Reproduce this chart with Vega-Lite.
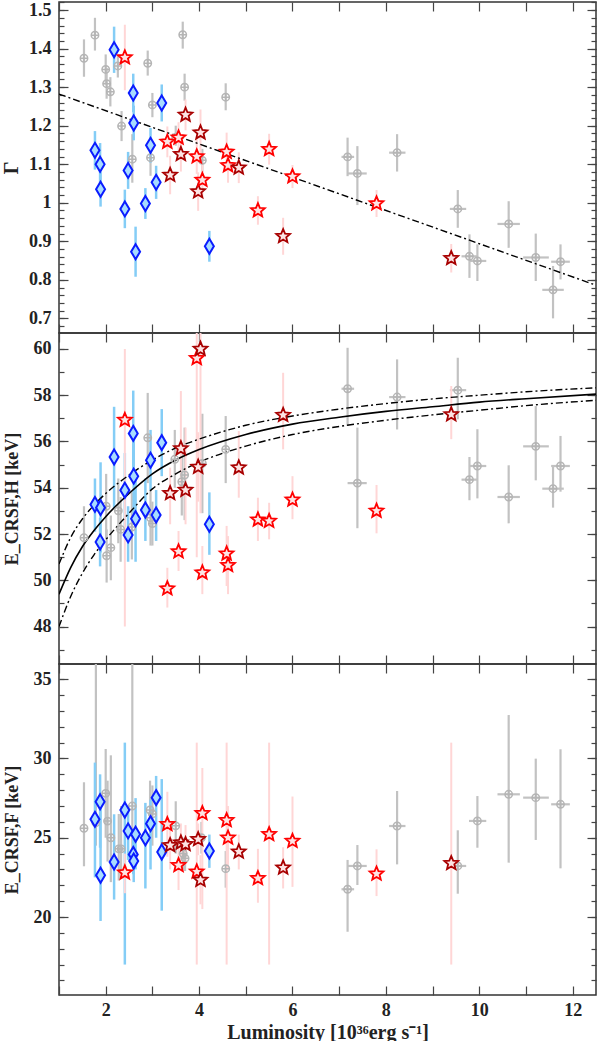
{
"$schema":"https://vega.github.io/schema/vega-lite/v6.json",
"padding":{"left":0,"top":0,"right":0,"bottom":0},
"spacing":0,
"bounds":"flush",
"datasets":{
"grey":[
{"p":1,"L":1.535,"v":1.375,"lo":1.327,"hi":1.424},
{"p":1,"L":1.77,"v":1.435,"lo":1.395,"hi":1.48},
{"p":1,"L":2.0,"v":1.346,"lo":1.307,"hi":1.385},
{"p":1,"L":2.02,"v":1.309,"lo":1.27,"hi":1.35},
{"p":1,"L":2.1,"v":1.288,"lo":1.25,"hi":1.326},
{"p":1,"L":2.26,"v":1.355,"lo":1.325,"hi":1.385},
{"p":1,"L":2.34,"v":1.199,"lo":1.16,"hi":1.238},
{"p":1,"L":2.57,"v":1.113,"lo":1.052,"hi":1.178},
{"p":1,"L":2.9,"v":1.362,"lo":1.33,"hi":1.395},
{"p":1,"L":2.96,"v":1.117,"lo":1.07,"hi":1.165},
{"p":1,"L":3.0,"v":1.254,"lo":1.222,"hi":1.285},
{"p":1,"L":3.5,"v":1.17,"lo":1.148,"hi":1.2},
{"p":1,"L":3.65,"v":1.436,"lo":1.4,"hi":1.47},
{"p":1,"L":3.69,"v":1.3,"lo":1.265,"hi":1.335},
{"p":1,"L":4.07,"v":1.11,"lo":1.08,"hi":1.14},
{"p":1,"L":4.57,"v":1.274,"lo":1.24,"hi":1.31},
{"p":1,"L":7.18,"Llo":7.05,"Lhi":7.32,"v":1.119,"lo":1.069,"hi":1.169},
{"p":1,"L":7.39,"Llo":7.18,"Lhi":7.59,"v":1.076,"lo":0.994,"hi":1.147},
{"p":1,"L":8.24,"Llo":8.07,"Lhi":8.42,"v":1.13,"lo":1.081,"hi":1.178},
{"p":1,"L":9.54,"Llo":9.37,"Lhi":9.72,"v":0.984,"lo":0.935,"hi":1.033},
{"p":1,"L":9.79,"Llo":9.62,"Lhi":9.96,"v":0.861,"lo":0.805,"hi":0.918},
{"p":1,"L":9.96,"Llo":9.78,"Lhi":10.15,"v":0.849,"lo":0.797,"hi":0.892},
{"p":1,"L":10.63,"Llo":10.39,"Lhi":10.87,"v":0.945,"lo":0.883,"hi":1.004},
{"p":1,"L":11.21,"Llo":10.94,"Lhi":11.49,"v":0.858,"lo":0.797,"hi":0.92},
{"p":1,"L":11.58,"Llo":11.35,"Lhi":11.81,"v":0.774,"lo":0.7,"hi":0.836},
{"p":1,"L":11.74,"Llo":11.54,"Lhi":11.94,"v":0.847,"lo":0.801,"hi":0.892},
{"p":2,"L":1.535,"v":51.84,"lo":50.5,"hi":53.2},
{"p":2,"L":2.01,"v":53.2,"lo":51.8,"hi":54.6},
{"p":2,"L":2.02,"v":51.06,"lo":49.9,"hi":52.2},
{"p":2,"L":2.11,"v":51.41,"lo":50.0,"hi":52.8},
{"p":2,"L":2.27,"v":53.0,"lo":51.6,"hi":54.4},
{"p":2,"L":2.32,"v":52.2,"lo":50.8,"hi":53.6},
{"p":2,"L":2.56,"v":52.3,"lo":50.9,"hi":53.8},
{"p":2,"L":2.9,"v":56.16,"lo":54.2,"hi":58.1},
{"p":2,"L":2.96,"v":52.7,"lo":51.5,"hi":53.9},
{"p":2,"L":3.0,"v":52.45,"lo":51.5,"hi":53.4},
{"p":2,"L":3.48,"v":55.23,"lo":54.0,"hi":56.5},
{"p":2,"L":3.63,"v":54.26,"lo":52.8,"hi":55.8},
{"p":2,"L":3.69,"v":54.55,"lo":52.6,"hi":56.6},
{"p":2,"L":4.07,"v":55.05,"lo":52.9,"hi":57.2},
{"p":2,"L":4.57,"v":55.66,"lo":54.2,"hi":57.1},
{"p":2,"L":7.18,"Llo":7.05,"Lhi":7.32,"v":58.28,"lo":56.67,"hi":60.05},
{"p":2,"L":7.39,"Llo":7.18,"Lhi":7.59,"v":54.2,"lo":52.25,"hi":56.6},
{"p":2,"L":8.24,"Llo":8.07,"Lhi":8.42,"v":57.92,"lo":56.52,"hi":59.55},
{"p":2,"L":9.54,"Llo":9.37,"Lhi":9.72,"v":58.22,"lo":56.96,"hi":59.62},
{"p":2,"L":9.79,"Llo":9.62,"Lhi":9.96,"v":54.35,"lo":53.46,"hi":55.33},
{"p":2,"L":9.96,"Llo":9.78,"Lhi":10.15,"v":54.94,"lo":53.54,"hi":56.53},
{"p":2,"L":10.63,"Llo":10.39,"Lhi":10.87,"v":53.6,"lo":52.46,"hi":54.97},
{"p":2,"L":11.21,"Llo":10.94,"Lhi":11.49,"v":55.79,"lo":54.32,"hi":57.53},
{"p":2,"L":11.58,"Llo":11.35,"Lhi":11.81,"v":53.96,"lo":53.14,"hi":54.94},
{"p":2,"L":11.74,"Llo":11.54,"Lhi":11.94,"v":54.94,"lo":53.83,"hi":56.24},
{"p":3,"L":1.535,"v":25.6,"lo":23.2,"hi":28.5},
{"p":3,"L":1.79,"v":25.95,"lo":24.5,"hi":37},
{"p":3,"L":2.0,"v":27.8,"lo":25.0,"hi":30.6},
{"p":3,"L":2.04,"v":26.05,"lo":23.5,"hi":28.6},
{"p":3,"L":2.11,"v":25.0,"lo":22.2,"hi":30.2},
{"p":3,"L":2.28,"v":24.3,"lo":22.3,"hi":26.5},
{"p":3,"L":2.33,"v":24.3,"lo":22.7,"hi":27.0},
{"p":3,"L":2.57,"v":27.0,"lo":23.5,"hi":37},
{"p":3,"L":2.95,"v":26.75,"lo":24.8,"hi":28.6},
{"p":3,"L":3.0,"v":26.5,"lo":24.5,"hi":28.3},
{"p":3,"L":3.5,"v":25.75,"lo":24.0,"hi":27.3},
{"p":3,"L":3.66,"v":24.0,"lo":23.0,"hi":25.0},
{"p":3,"L":3.7,"v":23.7,"lo":22.9,"hi":24.6},
{"p":3,"L":4.05,"v":25.0,"lo":24.0,"hi":26.0},
{"p":3,"L":4.57,"v":23.05,"lo":21.85,"hi":24.16},
{"p":3,"L":7.18,"Llo":7.05,"Lhi":7.32,"v":21.75,"lo":19.07,"hi":23.6},
{"p":3,"L":7.39,"Llo":7.18,"Lhi":7.59,"v":23.22,"lo":22.02,"hi":24.54},
{"p":3,"L":8.24,"Llo":8.07,"Lhi":8.42,"v":25.74,"lo":23.32,"hi":27.95},
{"p":3,"L":9.54,"Llo":9.37,"Lhi":9.72,"v":23.22,"lo":21.47,"hi":25.47},
{"p":3,"L":9.96,"Llo":9.78,"Lhi":10.15,"v":26.06,"lo":24.37,"hi":27.63},
{"p":3,"L":10.63,"Llo":10.39,"Lhi":10.87,"v":27.74,"lo":23.43,"hi":32.74},
{"p":3,"L":11.21,"Llo":10.94,"Lhi":11.49,"v":27.53,"lo":24.86,"hi":29.99},
{"p":3,"L":11.74,"Llo":11.54,"Lhi":11.94,"v":27.11,"lo":23.07,"hi":30.58}
],
"blue":[
{"p":1,"L":1.77,"v":1.136,"lo":1.086,"hi":1.186},
{"p":1,"L":1.88,"v":1.1,"lo":1.045,"hi":1.155},
{"p":1,"L":1.89,"v":1.035,"lo":0.99,"hi":1.08},
{"p":1,"L":2.18,"v":1.397,"lo":1.337,"hi":1.457},
{"p":1,"L":2.41,"v":0.984,"lo":0.934,"hi":1.034},
{"p":1,"L":2.48,"v":1.084,"lo":1.036,"hi":1.132},
{"p":1,"L":2.59,"v":1.285,"lo":1.235,"hi":1.335},
{"p":1,"L":2.6,"v":1.207,"lo":1.162,"hi":1.252},
{"p":1,"L":2.64,"v":0.873,"lo":0.808,"hi":0.938},
{"p":1,"L":2.85,"v":0.998,"lo":0.958,"hi":1.038},
{"p":1,"L":2.96,"v":1.149,"lo":1.104,"hi":1.194},
{"p":1,"L":3.08,"v":1.053,"lo":1.01,"hi":1.096},
{"p":1,"L":3.2,"v":1.259,"lo":1.211,"hi":1.307},
{"p":1,"L":4.22,"v":0.887,"lo":0.847,"hi":0.927},
{"p":2,"L":1.77,"v":53.28,"lo":52.1,"hi":54.4},
{"p":2,"L":1.88,"v":51.65,"lo":50.6,"hi":52.7},
{"p":2,"L":1.89,"v":53.14,"lo":51.2,"hi":55.1},
{"p":2,"L":2.18,"v":55.33,"lo":53.1,"hi":57.5},
{"p":2,"L":2.41,"v":53.89,"lo":52.3,"hi":55.5},
{"p":2,"L":2.48,"v":51.96,"lo":50.8,"hi":53.2},
{"p":2,"L":2.59,"v":56.35,"lo":54.6,"hi":58.2},
{"p":2,"L":2.6,"v":54.5,"lo":52.4,"hi":56.6},
{"p":2,"L":2.64,"v":52.66,"lo":50.8,"hi":54.5},
{"p":2,"L":2.85,"v":53.04,"lo":51.7,"hi":54.4},
{"p":2,"L":2.96,"v":55.19,"lo":53.9,"hi":56.5},
{"p":2,"L":3.08,"v":52.82,"lo":51.7,"hi":53.9},
{"p":2,"L":3.2,"v":55.95,"lo":54.5,"hi":57.4},
{"p":2,"L":4.22,"v":52.42,"lo":51.1,"hi":53.8},
{"p":3,"L":1.77,"v":26.16,"lo":22.5,"hi":29.74},
{"p":3,"L":1.88,"v":27.27,"lo":24.37,"hi":29.0},
{"p":3,"L":1.89,"v":22.63,"lo":19.75,"hi":26.9},
{"p":3,"L":2.18,"v":23.47,"lo":21.1,"hi":26.48},
{"p":3,"L":2.41,"v":26.75,"lo":17.0,"hi":31.0},
{"p":3,"L":2.48,"v":25.43,"lo":23.6,"hi":27.0},
{"p":3,"L":2.59,"v":23.95,"lo":22.7,"hi":25.5},
{"p":3,"L":2.6,"v":23.53,"lo":22.2,"hi":25.0},
{"p":3,"L":2.64,"v":25.22,"lo":23.0,"hi":27.5},
{"p":3,"L":2.85,"v":25.0,"lo":21.8,"hi":27.2},
{"p":3,"L":2.96,"v":25.89,"lo":23.0,"hi":27.4},
{"p":3,"L":3.08,"v":27.53,"lo":25.0,"hi":28.9},
{"p":3,"L":3.2,"v":24.1,"lo":20.4,"hi":28.7},
{"p":3,"L":4.22,"v":24.16,"lo":23.1,"hi":25.2}
],
"star":[
{"p":1,"c":"b","L":2.41,"v":1.377,"lo":1.292,"hi":1.462},
{"p":1,"c":"b","L":3.32,"v":1.158,"lo":1.118,"hi":1.198},
{"p":1,"c":"d","L":3.38,"v":1.072,"lo":1.022,"hi":1.122},
{"p":1,"c":"b","L":3.56,"v":1.169,"lo":1.129,"hi":1.209},
{"p":1,"c":"d","L":3.61,"v":1.126,"lo":1.081,"hi":1.171},
{"p":1,"c":"d","L":3.71,"v":1.228,"lo":1.188,"hi":1.268},
{"p":1,"c":"b","L":3.95,"v":1.12,"lo":1.075,"hi":1.165},
{"p":1,"c":"d","L":3.98,"v":1.029,"lo":0.979,"hi":1.079},
{"p":1,"c":"d","L":4.03,"v":1.182,"lo":1.122,"hi":1.242},
{"p":1,"c":"b","L":4.07,"v":1.059,"lo":1.014,"hi":1.104},
{"p":1,"c":"b","L":4.59,"v":1.132,"lo":1.082,"hi":1.182},
{"p":1,"c":"b","L":4.62,"v":1.097,"lo":1.052,"hi":1.142},
{"p":1,"c":"d","L":4.85,"v":1.091,"lo":1.051,"hi":1.131},
{"p":1,"c":"b","L":5.26,"v":0.98,"lo":0.943,"hi":1.017},
{"p":1,"c":"b","L":5.5,"v":1.139,"lo":1.099,"hi":1.179},
{"p":1,"c":"d","L":5.8,"v":0.913,"lo":0.865,"hi":0.961},
{"p":1,"c":"b","L":6.0,"v":1.068,"lo":1.038,"hi":1.098},
{"p":1,"c":"b","L":7.8,"v":0.998,"lo":0.963,"hi":1.033},
{"p":1,"c":"d","L":9.4,"v":0.856,"lo":0.819,"hi":0.893},
{"p":2,"c":"b","L":2.41,"v":56.93,"lo":48.0,"hi":60.0},
{"p":2,"c":"b","L":3.32,"v":49.64,"lo":48.82,"hi":50.54},
{"p":2,"c":"d","L":3.38,"v":53.76,"lo":52.42,"hi":54.87},
{"p":2,"c":"b","L":3.56,"v":51.24,"lo":50.4,"hi":52.13},
{"p":2,"c":"d","L":3.61,"v":55.7,"lo":53.72,"hi":58.18},
{"p":2,"c":"d","L":3.71,"v":53.9,"lo":52.42,"hi":56.6},
{"p":2,"c":"b","L":3.95,"v":59.6,"lo":51.0,"hi":68},
{"p":2,"c":"d","L":3.98,"v":54.9,"lo":53.4,"hi":56.4},
{"p":2,"c":"d","L":4.03,"v":60.0,"lo":52.9,"hi":67},
{"p":2,"c":"b","L":4.07,"v":50.33,"lo":49.4,"hi":51.48},
{"p":2,"c":"b","L":4.59,"v":51.15,"lo":49.75,"hi":52.35},
{"p":2,"c":"b","L":4.62,"v":50.65,"lo":49.4,"hi":51.91},
{"p":2,"c":"d","L":4.85,"v":54.87,"lo":53.57,"hi":56.45},
{"p":2,"c":"b","L":5.26,"v":52.62,"lo":51.7,"hi":53.57},
{"p":2,"c":"b","L":5.5,"v":52.56,"lo":51.77,"hi":53.35},
{"p":2,"c":"d","L":5.8,"v":57.14,"lo":55.66,"hi":58.97},
{"p":2,"c":"b","L":6.0,"v":53.48,"lo":52.64,"hi":54.5},
{"p":2,"c":"b","L":7.8,"v":53.0,"lo":52.03,"hi":54.12},
{"p":2,"c":"d","L":9.4,"v":57.17,"lo":56.1,"hi":58.4},
{"p":3,"c":"b","L":2.41,"v":22.8,"lo":21.5,"hi":24.0},
{"p":3,"c":"b","L":3.32,"v":25.85,"lo":23.8,"hi":27.9},
{"p":3,"c":"d","L":3.38,"v":24.52,"lo":23.0,"hi":26.0},
{"p":3,"c":"b","L":3.56,"v":23.26,"lo":21.7,"hi":24.8},
{"p":3,"c":"d","L":3.61,"v":24.69,"lo":23.5,"hi":25.9},
{"p":3,"c":"d","L":3.71,"v":24.59,"lo":23.4,"hi":25.8},
{"p":3,"c":"b","L":3.95,"v":22.86,"lo":17.0,"hi":31.0},
{"p":3,"c":"d","L":3.98,"v":24.9,"lo":23.9,"hi":25.9},
{"p":3,"c":"d","L":4.03,"v":22.33,"lo":20.8,"hi":23.9},
{"p":3,"c":"b","L":4.07,"v":26.54,"lo":20.5,"hi":29.4},
{"p":3,"c":"b","L":4.59,"v":26.1,"lo":17.0,"hi":31.0},
{"p":3,"c":"b","L":4.62,"v":25.0,"lo":23.0,"hi":27.0},
{"p":3,"c":"d","L":4.85,"v":24.12,"lo":23.0,"hi":25.2},
{"p":3,"c":"b","L":5.26,"v":22.44,"lo":20.9,"hi":24.3},
{"p":3,"c":"b","L":5.5,"v":25.22,"lo":17.0,"hi":31.0},
{"p":3,"c":"d","L":5.8,"v":23.11,"lo":21.8,"hi":24.4},
{"p":3,"c":"b","L":6.0,"v":24.79,"lo":21.9,"hi":27.6},
{"p":3,"c":"b","L":7.8,"v":22.73,"lo":21.32,"hi":24.27},
{"p":3,"c":"d","L":9.4,"v":23.39,"lo":17.0,"hi":31.0}
],
"fit":[
{"p":1,"k":"d","L":1,"v":1.282},{"p":1,"k":"d","L":12.5,"v":0.786},
{"p":2,"k":"s","L":1,"v":49.4},{"p":2,"k":"s","L":1.25,"v":50.55},{"p":2,"k":"s","L":1.5,"v":51.45},{"p":2,"k":"s","L":1.75,"v":52.15},{"p":2,"k":"s","L":2,"v":52.75},{"p":2,"k":"s","L":2.5,"v":53.75},{"p":2,"k":"s","L":3,"v":54.6},{"p":2,"k":"s","L":3.5,"v":55.2},{"p":2,"k":"s","L":4,"v":55.65},{"p":2,"k":"s","L":5,"v":56.3},{"p":2,"k":"s","L":6,"v":56.75},{"p":2,"k":"s","L":7,"v":57.05},{"p":2,"k":"s","L":8,"v":57.3},{"p":2,"k":"s","L":9,"v":57.5},{"p":2,"k":"s","L":10,"v":57.7},{"p":2,"k":"s","L":11,"v":57.85},{"p":2,"k":"s","L":12.5,"v":58.05},
{"p":2,"k":"u","L":1,"v":50.7},{"p":2,"k":"u","L":1.25,"v":51.85},{"p":2,"k":"u","L":1.5,"v":52.65},{"p":2,"k":"u","L":1.75,"v":53.25},{"p":2,"k":"u","L":2,"v":53.75},{"p":2,"k":"u","L":2.5,"v":54.55},{"p":2,"k":"u","L":3,"v":55.2},{"p":2,"k":"u","L":3.5,"v":55.72},{"p":2,"k":"u","L":4,"v":56.1},{"p":2,"k":"u","L":5,"v":56.7},{"p":2,"k":"u","L":6,"v":57.1},{"p":2,"k":"u","L":7,"v":57.4},{"p":2,"k":"u","L":8,"v":57.64},{"p":2,"k":"u","L":9,"v":57.84},{"p":2,"k":"u","L":10,"v":58.0},{"p":2,"k":"u","L":11,"v":58.15},{"p":2,"k":"u","L":12.5,"v":58.32},
{"p":2,"k":"l","L":1,"v":48.0},{"p":2,"k":"l","L":1.25,"v":49.3},{"p":2,"k":"l","L":1.5,"v":50.3},{"p":2,"k":"l","L":1.75,"v":51.1},{"p":2,"k":"l","L":2,"v":51.75},{"p":2,"k":"l","L":2.5,"v":52.9},{"p":2,"k":"l","L":3,"v":53.95},{"p":2,"k":"l","L":3.5,"v":54.6},{"p":2,"k":"l","L":4,"v":55.1},{"p":2,"k":"l","L":5,"v":55.8},{"p":2,"k":"l","L":6,"v":56.3},{"p":2,"k":"l","L":7,"v":56.65},{"p":2,"k":"l","L":8,"v":56.92},{"p":2,"k":"l","L":9,"v":57.15},{"p":2,"k":"l","L":10,"v":57.35},{"p":2,"k":"l","L":11,"v":57.55},{"p":2,"k":"l","L":12.5,"v":57.78}
]
},
"vconcat":[
{"width":537,"height":331,
"layer":[
{"data":{"name":"grey"},"transform":[{"filter":"datum.p==1 && isValid(datum.Llo)"}],
"mark":{"type":"rule","color":"#c2c2c2","strokeWidth":2.2,"clip":true},
"encoding":{"x":{"field":"Llo","type":"quantitative","scale":{"domain":[1,12.5],"nice":false,"zero":false},"axis":{"orient":"bottom","values":[1,2,3,4,5,6,7,8,9,10,11,12],"tickSize":-9,"labels":false,"domain":false,"grid":false,"title":null,"minExtent":0,"maxExtent":0}},"x2":{"field":"Lhi"},
"y":{"field":"v","type":"quantitative","scale":{"domain":[0.662,1.521],"nice":false,"zero":false},"axis":{"orient":"left","values":[0.7,0.8,0.9,1,1.1,1.2,1.3,1.4,1.5],"format":"~g","tickSize":-9,"labelPadding":17,"domain":false,"grid":false,"title":"Γ","titleFontSize":20,"titlePadding":7}}}},
{"data":{"name":"grey"},"transform":[{"filter":"datum.p==1"}],
"mark":{"type":"rule","color":"#c2c2c2","strokeWidth":2.2,"clip":true},
"encoding":{"x":{"field":"L","type":"quantitative","scale":{"domain":[1,12.5],"nice":false,"zero":false},"axis":{"orient":"top","values":[1,2,3,4,5,6,7,8,9,10,11,12],"tickSize":-9,"labels":false,"domain":false,"grid":false,"title":null,"minExtent":0,"maxExtent":0}},
"y":{"field":"lo","type":"quantitative","scale":{"domain":[0.662,1.521],"nice":false,"zero":false},"axis":{"orient":"right","values":[0.7,0.8,0.9,1,1.1,1.2,1.3,1.4,1.5],"tickSize":-9,"labels":false,"domain":false,"grid":false,"title":null,"minExtent":0,"maxExtent":0}},"y2":{"field":"hi"}}},
{"data":{"name":"blue"},"transform":[{"filter":"datum.p==1"}],
"mark":{"type":"rule","color":"#84cdf6","strokeWidth":2.5,"clip":true},
"encoding":{"x":{"field":"L","type":"quantitative","scale":{"domain":[1,12.5],"nice":false,"zero":false},"axis":null},
"y":{"field":"lo","type":"quantitative","scale":{"domain":[0.662,1.521],"nice":false,"zero":false},"axis":{"orient":"left","values":[0.68,0.7,0.72,0.74,0.76,0.78,0.8,0.82,0.84,0.86,0.88,0.9,0.92,0.94,0.96,0.98,1,1.02,1.04,1.06,1.08,1.1,1.12,1.14,1.16,1.18,1.2,1.22,1.24,1.26,1.28,1.3,1.32,1.34,1.36,1.38,1.4,1.42,1.44,1.46,1.48,1.5,1.52],"tickSize":-5,"labels":false,"domain":false,"grid":false,"title":null,"minExtent":0,"maxExtent":0}},"y2":{"field":"hi"}}},
{"data":{"name":"star"},"transform":[{"filter":"datum.p==1"}],
"mark":{"type":"rule","color":"#ffd6d6","strokeWidth":2,"clip":true},
"encoding":{"x":{"field":"L","type":"quantitative","scale":{"domain":[1,12.5],"nice":false,"zero":false},"axis":null},
"y":{"field":"lo","type":"quantitative","scale":{"domain":[0.662,1.521],"nice":false,"zero":false},"axis":{"orient":"right","values":[0.68,0.7,0.72,0.74,0.76,0.78,0.8,0.82,0.84,0.86,0.88,0.9,0.92,0.94,0.96,0.98,1,1.02,1.04,1.06,1.08,1.1,1.12,1.14,1.16,1.18,1.2,1.22,1.24,1.26,1.28,1.3,1.32,1.34,1.36,1.38,1.4,1.42,1.44,1.46,1.48,1.5,1.52],"tickSize":-5,"labels":false,"domain":false,"grid":false,"title":null,"minExtent":0,"maxExtent":0}},"y2":{"field":"hi"}}},
{"data":{"name":"fit"},"transform":[{"filter":"datum.p==1"}],
"mark":{"type":"line","color":"#000","strokeWidth":1.4,"strokeDash":[7,3,2,3],"clip":true},
"encoding":{"x":{"field":"L","type":"quantitative","scale":{"domain":[1,12.5],"nice":false,"zero":false},"axis":null},"y":{"field":"v","type":"quantitative","scale":{"domain":[0.662,1.521],"nice":false,"zero":false},"axis":null},"detail":{"field":"k"}}},
{"data":{"name":"grey"},"transform":[{"filter":"datum.p==1"}],
"mark":{"type":"point","shape":"M-1,0A1,1,0,1,1,1,0A1,1,0,1,1,-1,0ZM-1,0L1,0M0,-1L0,1","filled":false,"stroke":"#b5b5b5","strokeWidth":1.5,"size":55,"opacity":1,"clip":true},
"encoding":{"x":{"field":"L","type":"quantitative","scale":{"domain":[1,12.5],"nice":false,"zero":false},"axis":null},"y":{"field":"v","type":"quantitative","scale":{"domain":[0.662,1.521],"nice":false,"zero":false},"axis":null}}},
{"data":{"name":"blue"},"transform":[{"filter":"datum.p==1"}],
"mark":{"type":"point","shape":"M0,-1L0.6,0L0,1L-0.6,0Z","filled":true,"fill":"#a8dcff","stroke":"#0a1cff","strokeWidth":2,"size":225,"opacity":1,"clip":true},
"encoding":{"x":{"field":"L","type":"quantitative","scale":{"domain":[1,12.5],"nice":false,"zero":false},"axis":null},"y":{"field":"v","type":"quantitative","scale":{"domain":[0.662,1.521],"nice":false,"zero":false},"axis":null}}},
{"data":{"name":"star"},"transform":[{"filter":"datum.p==1"}],
"mark":{"type":"point","shape":"M0,-1L0.2645,-0.364L0.951,-0.309L0.428,0.139L0.588,0.809L0,0.45L-0.588,0.809L-0.428,0.139L-0.951,-0.309L-0.2645,-0.364Z","filled":true,"fill":"#fde4e4","strokeWidth":1.8,"size":210,"opacity":1,"clip":true},
"encoding":{"x":{"field":"L","type":"quantitative","scale":{"domain":[1,12.5],"nice":false,"zero":false},"axis":null},"y":{"field":"v","type":"quantitative","scale":{"domain":[0.662,1.521],"nice":false,"zero":false},"axis":null},"stroke":{"field":"c","type":"nominal","scale":{"domain":["b","d"],"range":["#ff0000","#a80000"]},"legend":null}}}
]},
{"width":537,"height":331,
"layer":[
{"data":{"name":"grey"},"transform":[{"filter":"datum.p==2 && isValid(datum.Llo)"}],
"mark":{"type":"rule","color":"#c2c2c2","strokeWidth":2.2,"clip":true},
"encoding":{"x":{"field":"Llo","type":"quantitative","scale":{"domain":[1,12.5],"nice":false,"zero":false},"axis":{"orient":"bottom","values":[1,2,3,4,5,6,7,8,9,10,11,12],"tickSize":-9,"labels":false,"domain":false,"grid":false,"title":null,"minExtent":0,"maxExtent":0}},"x2":{"field":"Lhi"},
"y":{"field":"v","type":"quantitative","scale":{"domain":[46.38,60.69],"nice":false,"zero":false},"axis":{"orient":"left","values":[48,50,52,54,56,58,60],"tickSize":-9,"labelPadding":17,"domain":false,"grid":false,"title":"E_CRSF,H [keV]","titlePadding":12}}}},
{"data":{"name":"grey"},"transform":[{"filter":"datum.p==2"}],
"mark":{"type":"rule","color":"#c2c2c2","strokeWidth":2.2,"clip":true},
"encoding":{"x":{"field":"L","type":"quantitative","scale":{"domain":[1,12.5],"nice":false,"zero":false},"axis":{"orient":"top","values":[1,2,3,4,5,6,7,8,9,10,11,12],"tickSize":-9,"labels":false,"domain":false,"grid":false,"title":null,"minExtent":0,"maxExtent":0}},
"y":{"field":"lo","type":"quantitative","scale":{"domain":[46.38,60.69],"nice":false,"zero":false},"axis":{"orient":"right","values":[48,50,52,54,56,58,60],"tickSize":-9,"labels":false,"domain":false,"grid":false,"title":null,"minExtent":0,"maxExtent":0}},"y2":{"field":"hi"}}},
{"data":{"name":"blue"},"transform":[{"filter":"datum.p==2"}],
"mark":{"type":"rule","color":"#84cdf6","strokeWidth":2.5,"clip":true},
"encoding":{"x":{"field":"L","type":"quantitative","scale":{"domain":[1,12.5],"nice":false,"zero":false},"axis":null},
"y":{"field":"lo","type":"quantitative","scale":{"domain":[46.38,60.69],"nice":false,"zero":false},"axis":{"orient":"left","values":[47,48,49,50,51,52,53,54,55,56,57,58,59,60],"tickSize":-5,"labels":false,"domain":false,"grid":false,"title":null,"minExtent":0,"maxExtent":0}},"y2":{"field":"hi"}}},
{"data":{"name":"star"},"transform":[{"filter":"datum.p==2"}],
"mark":{"type":"rule","color":"#ffd6d6","strokeWidth":2,"clip":true},
"encoding":{"x":{"field":"L","type":"quantitative","scale":{"domain":[1,12.5],"nice":false,"zero":false},"axis":null},
"y":{"field":"lo","type":"quantitative","scale":{"domain":[46.38,60.69],"nice":false,"zero":false},"axis":{"orient":"right","values":[47,48,49,50,51,52,53,54,55,56,57,58,59,60],"tickSize":-5,"labels":false,"domain":false,"grid":false,"title":null,"minExtent":0,"maxExtent":0}},"y2":{"field":"hi"}}},
{"data":{"name":"fit"},"transform":[{"filter":"datum.p==2 && datum.k=='s'"}],
"mark":{"type":"line","color":"#000","strokeWidth":1.6,"interpolate":"monotone","clip":true},
"encoding":{"x":{"field":"L","type":"quantitative","scale":{"domain":[1,12.5],"nice":false,"zero":false},"axis":null},"y":{"field":"v","type":"quantitative","scale":{"domain":[46.38,60.69],"nice":false,"zero":false},"axis":null}}},
{"data":{"name":"fit"},"transform":[{"filter":"datum.p==2 && datum.k!='s'"}],
"mark":{"type":"line","color":"#000","strokeWidth":1.4,"strokeDash":[7,3,2,3],"interpolate":"monotone","clip":true},
"encoding":{"x":{"field":"L","type":"quantitative","scale":{"domain":[1,12.5],"nice":false,"zero":false},"axis":null},"y":{"field":"v","type":"quantitative","scale":{"domain":[46.38,60.69],"nice":false,"zero":false},"axis":null},"detail":{"field":"k"}}},
{"data":{"name":"grey"},"transform":[{"filter":"datum.p==2"}],
"mark":{"type":"point","shape":"M-1,0A1,1,0,1,1,1,0A1,1,0,1,1,-1,0ZM-1,0L1,0M0,-1L0,1","filled":false,"stroke":"#b5b5b5","strokeWidth":1.5,"size":55,"opacity":1,"clip":true},
"encoding":{"x":{"field":"L","type":"quantitative","scale":{"domain":[1,12.5],"nice":false,"zero":false},"axis":null},"y":{"field":"v","type":"quantitative","scale":{"domain":[46.38,60.69],"nice":false,"zero":false},"axis":null}}},
{"data":{"name":"blue"},"transform":[{"filter":"datum.p==2"}],
"mark":{"type":"point","shape":"M0,-1L0.6,0L0,1L-0.6,0Z","filled":true,"fill":"#a8dcff","stroke":"#0a1cff","strokeWidth":2,"size":225,"opacity":1,"clip":true},
"encoding":{"x":{"field":"L","type":"quantitative","scale":{"domain":[1,12.5],"nice":false,"zero":false},"axis":null},"y":{"field":"v","type":"quantitative","scale":{"domain":[46.38,60.69],"nice":false,"zero":false},"axis":null}}},
{"data":{"name":"star"},"transform":[{"filter":"datum.p==2"}],
"mark":{"type":"point","shape":"M0,-1L0.2645,-0.364L0.951,-0.309L0.428,0.139L0.588,0.809L0,0.45L-0.588,0.809L-0.428,0.139L-0.951,-0.309L-0.2645,-0.364Z","filled":true,"fill":"#fde4e4","strokeWidth":1.8,"size":210,"opacity":1,"clip":true},
"encoding":{"x":{"field":"L","type":"quantitative","scale":{"domain":[1,12.5],"nice":false,"zero":false},"axis":null},"y":{"field":"v","type":"quantitative","scale":{"domain":[46.38,60.69],"nice":false,"zero":false},"axis":null},"stroke":{"field":"c","type":"nominal","scale":{"domain":["b","d"],"range":["#ff0000","#a80000"]},"legend":null}}}
]},
{"width":537,"height":331,
"layer":[
{"data":{"name":"grey"},"transform":[{"filter":"datum.p==3 && isValid(datum.Llo)"}],
"mark":{"type":"rule","color":"#c2c2c2","strokeWidth":2.2,"clip":true},
"encoding":{"x":{"field":"Llo","type":"quantitative","scale":{"domain":[1,12.5],"nice":false,"zero":false},"axis":{"orient":"bottom","values":[1,2,3,4,5,6,7,8,9,10,11,12],"tickSize":-9,"labelExpr":"datum.value % 2 == 0 ? datum.label : ''","labelPadding":15,"domain":false,"grid":false,"title":"Luminosity [10³⁶erg s⁻¹]","titleFontSize":20,"titlePadding":3}},"x2":{"field":"Lhi"},
"y":{"field":"v","type":"quantitative","scale":{"domain":[15.08,35.96],"nice":false,"zero":false},"axis":{"orient":"left","values":[20,25,30,35],"tickSize":-9,"labelPadding":17,"domain":false,"grid":false,"title":"E_CRSF,F [keV]","titlePadding":12}}}},
{"data":{"name":"grey"},"transform":[{"filter":"datum.p==3"}],
"mark":{"type":"rule","color":"#c2c2c2","strokeWidth":2.2,"clip":true},
"encoding":{"x":{"field":"L","type":"quantitative","scale":{"domain":[1,12.5],"nice":false,"zero":false},"axis":{"orient":"top","values":[1,2,3,4,5,6,7,8,9,10,11,12],"tickSize":-9,"labels":false,"domain":false,"grid":false,"title":null,"minExtent":0,"maxExtent":0}},
"y":{"field":"lo","type":"quantitative","scale":{"domain":[15.08,35.96],"nice":false,"zero":false},"axis":{"orient":"right","values":[20,25,30,35],"tickSize":-9,"labels":false,"domain":false,"grid":false,"title":null,"minExtent":0,"maxExtent":0}},"y2":{"field":"hi"}}},
{"data":{"name":"blue"},"transform":[{"filter":"datum.p==3"}],
"mark":{"type":"rule","color":"#84cdf6","strokeWidth":2.5,"clip":true},
"encoding":{"x":{"field":"L","type":"quantitative","scale":{"domain":[1,12.5],"nice":false,"zero":false},"axis":null},
"y":{"field":"lo","type":"quantitative","scale":{"domain":[15.08,35.96],"nice":false,"zero":false},"axis":{"orient":"left","values":[16,17,18,19,20,21,22,23,24,25,26,27,28,29,30,31,32,33,34,35],"tickSize":-5,"labels":false,"domain":false,"grid":false,"title":null,"minExtent":0,"maxExtent":0}},"y2":{"field":"hi"}}},
{"data":{"name":"star"},"transform":[{"filter":"datum.p==3"}],
"mark":{"type":"rule","color":"#ffd6d6","strokeWidth":2,"clip":true},
"encoding":{"x":{"field":"L","type":"quantitative","scale":{"domain":[1,12.5],"nice":false,"zero":false},"axis":null},
"y":{"field":"lo","type":"quantitative","scale":{"domain":[15.08,35.96],"nice":false,"zero":false},"axis":{"orient":"right","values":[16,17,18,19,20,21,22,23,24,25,26,27,28,29,30,31,32,33,34,35],"tickSize":-5,"labels":false,"domain":false,"grid":false,"title":null,"minExtent":0,"maxExtent":0}},"y2":{"field":"hi"}}},
{"data":{"name":"grey"},"transform":[{"filter":"datum.p==3"}],
"mark":{"type":"point","shape":"M-1,0A1,1,0,1,1,1,0A1,1,0,1,1,-1,0ZM-1,0L1,0M0,-1L0,1","filled":false,"stroke":"#b5b5b5","strokeWidth":1.5,"size":55,"opacity":1,"clip":true},
"encoding":{"x":{"field":"L","type":"quantitative","scale":{"domain":[1,12.5],"nice":false,"zero":false},"axis":null},"y":{"field":"v","type":"quantitative","scale":{"domain":[15.08,35.96],"nice":false,"zero":false},"axis":null}}},
{"data":{"name":"blue"},"transform":[{"filter":"datum.p==3"}],
"mark":{"type":"point","shape":"M0,-1L0.6,0L0,1L-0.6,0Z","filled":true,"fill":"#a8dcff","stroke":"#0a1cff","strokeWidth":2,"size":225,"opacity":1,"clip":true},
"encoding":{"x":{"field":"L","type":"quantitative","scale":{"domain":[1,12.5],"nice":false,"zero":false},"axis":null},"y":{"field":"v","type":"quantitative","scale":{"domain":[15.08,35.96],"nice":false,"zero":false},"axis":null}}},
{"data":{"name":"star"},"transform":[{"filter":"datum.p==3"}],
"mark":{"type":"point","shape":"M0,-1L0.2645,-0.364L0.951,-0.309L0.428,0.139L0.588,0.809L0,0.45L-0.588,0.809L-0.428,0.139L-0.951,-0.309L-0.2645,-0.364Z","filled":true,"fill":"#fde4e4","strokeWidth":1.8,"size":210,"opacity":1,"clip":true},
"encoding":{"x":{"field":"L","type":"quantitative","scale":{"domain":[1,12.5],"nice":false,"zero":false},"axis":null},"y":{"field":"v","type":"quantitative","scale":{"domain":[15.08,35.96],"nice":false,"zero":false},"axis":null},"stroke":{"field":"c","type":"nominal","scale":{"domain":["b","d"],"range":["#ff0000","#a80000"]},"legend":null}}}
]}
],
"config":{
"view":{"stroke":"#333","strokeWidth":1.5},
"axis":{"labelFont":"Liberation Serif","labelFontSize":18,"labelFontWeight":"bold","labelColor":"#222","titleFont":"Liberation Serif","titleFontSize":18,"titleFontWeight":"bold","titleColor":"#222","tickColor":"#444","tickWidth":1.2}
}
}
